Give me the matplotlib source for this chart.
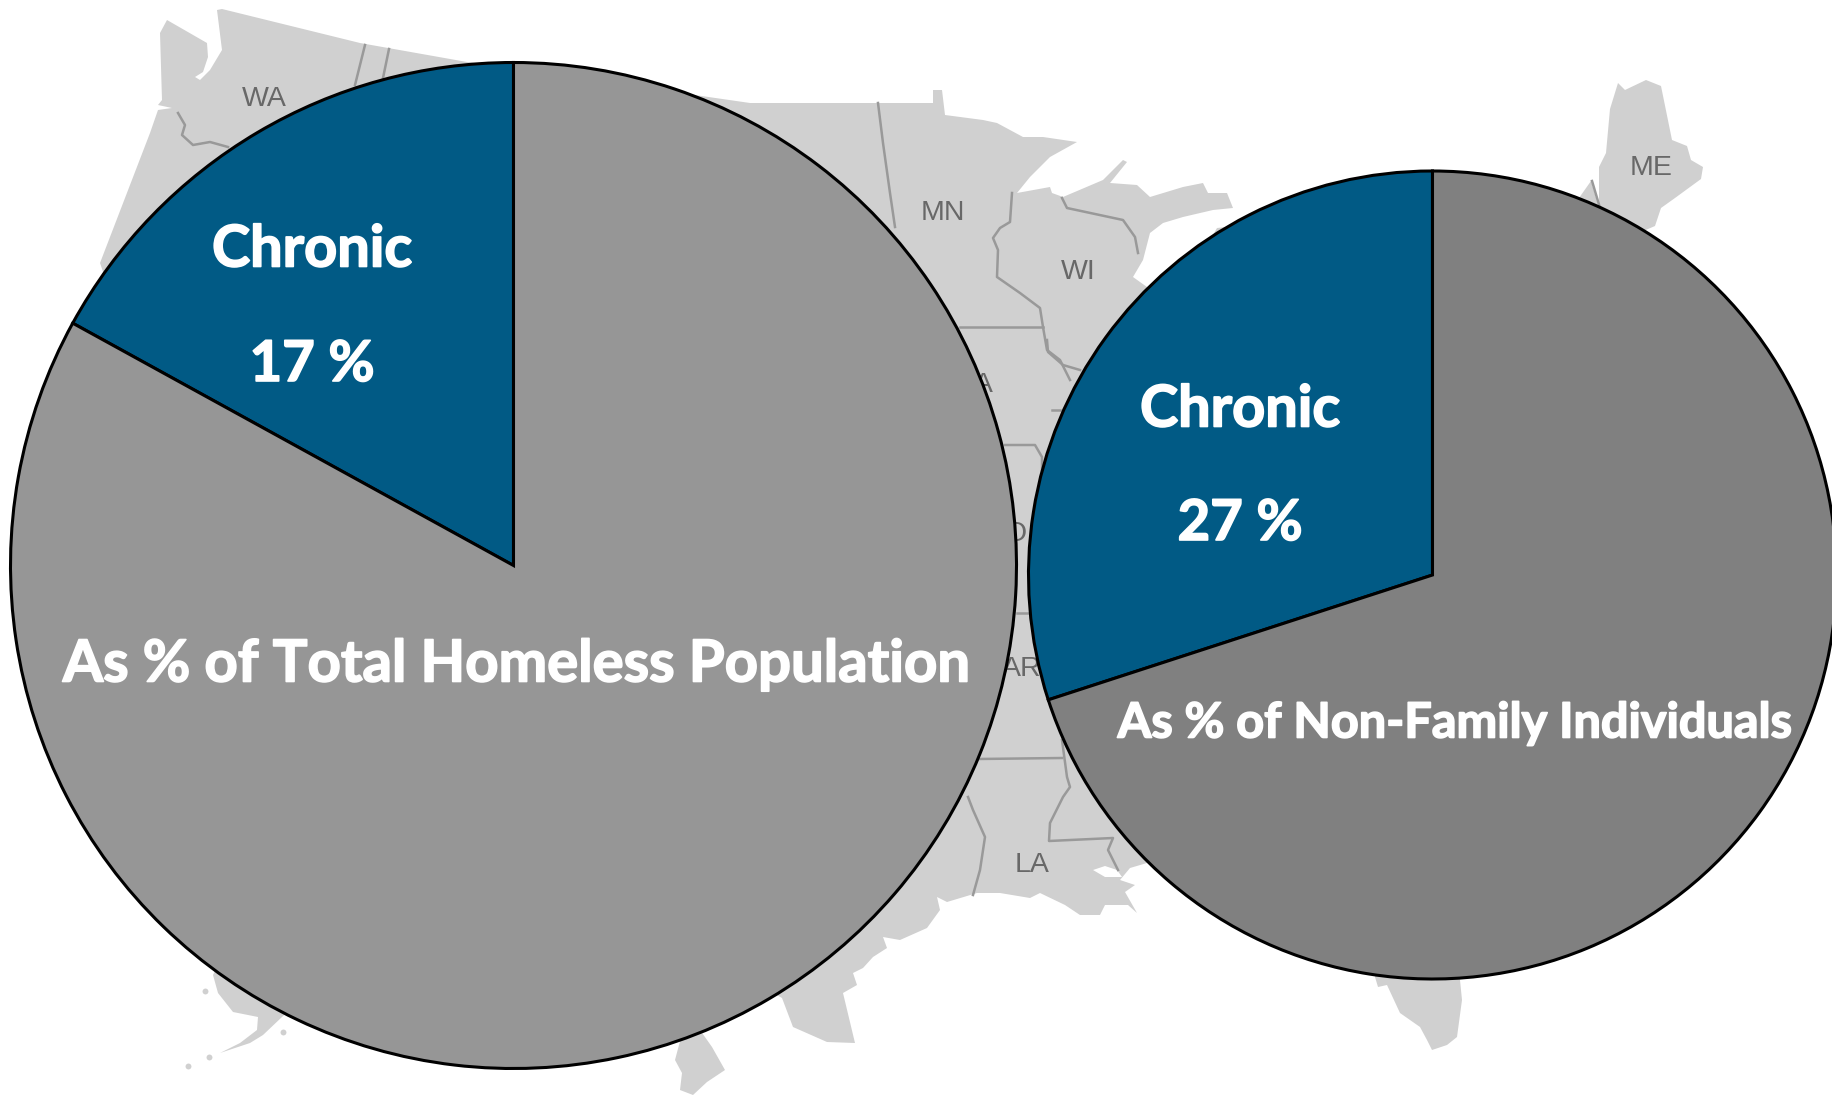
import matplotlib
matplotlib.use('Agg')
import matplotlib.pyplot as plt
import matplotlib.patheffects as pe
from matplotlib.patches import Polygon

# 円グラフの値 (描かれている扇形の割合)
chronic_total = [17, 83]
chronic_single = [30, 70]

# 文字列
chronic_label = 'Chronic'
total_pct = '17 %'
single_pct = '27 %'
total_title = 'As % of Total Homeless Population'
single_title = 'As % of Non-Family Individuals'

# 背景の地図 (画像のピクセル座標で読み取り)
land_main = [
    (160, 33), (167, 20), (207, 43), (208, 57), (203, 72), (195, 77), (200, 80), (210, 70), (222, 50),
    (217, 10), (222, 9), (360, 43), (467, 62), (750, 103), (933, 103), (933, 90), (942, 90), (945, 115),
    (983, 120), (997, 123), (1023, 137), (1043, 137), (1077, 142), (1050, 157), (1030, 177), (1017, 193),
    (1050, 187), (1052, 193), (1063, 197), (1103, 180), (1123, 160), (1127, 162), (1110, 183), (1137, 185),
    (1150, 197), (1183, 187), (1203, 183), (1208, 193), (1227, 193), (1233, 208), (1213, 210), (1183, 217),
    (1163, 223), (1150, 233), (1143, 260), (1133, 277), (1147, 287), (1300, 400), (1579, 198), (1591, 181),
    (1599, 208), (1599, 167), (1606, 153), (1610, 109), (1618, 83), (1625, 90), (1646, 80), (1661, 86),
    (1672, 140), (1687, 146), (1691, 160), (1703, 167), (1701, 179), (1675, 198), (1661, 208), (1655, 226),
    (1641, 232), (1500, 600), (1300, 830), (1147, 863), (1130, 868), (1120, 880), (1135, 885), (1125, 892),
    (1137, 913), (1128, 905), (1105, 905), (1100, 915), (1080, 915), (1065, 905), (1040, 893), (1030, 898),
    (1000, 893), (977, 893), (947, 902), (937, 897), (940, 910), (927, 928), (900, 940), (883, 937),
    (887, 948), (873, 957), (863, 968), (853, 973), (857, 985), (843, 993), (855, 1043), (827, 1042),
    (793, 1027), (782, 998), (700, 950), (300, 1000), (282, 1017), (263, 1035), (250, 1043), (220, 1053),
    (240, 1043), (257, 1030), (258, 1017), (233, 1012), (218, 993), (213, 975), (300, 800), (130, 350),
    (100, 263), (150, 133), (158, 110), (172, 108), (158, 105), (162, 100),
]
land_michigan = [(1210, 240), (1217, 228), (1226, 227), (1232, 232), (1260, 300)]
land_key = [
    (683, 1030), (700, 1030), (712, 1047), (725, 1070), (707, 1082), (693, 1095), (680, 1090), (682, 1073), (675, 1060),
]
land_florida = [
    (1375, 960), (1375, 977), (1378, 987), (1387, 985), (1400, 1013), (1420, 1027), (1427, 1040), (1432, 1050),
    (1447, 1045), (1457, 1037), (1462, 1000), (1458, 960),
]
lake_blob = [(1093, 870), (1105, 866), (1117, 870), (1122, 877), (1105, 877)]
island_x = [205, 209, 188, 283]
island_y = [991, 1057, 1066, 1032]

state_borders = [
    [(178, 113), (185, 125), (182, 135), (193, 145), (210, 142), (228, 147)],
    [(365, 45), (355, 85)],
    [(389, 49), (383, 78)],
    [(878, 103), (883, 143), (890, 193), (895, 227)],
    [(1012, 193), (1010, 222), (1000, 228), (993, 238), (998, 250), (997, 277), (1020, 293), (1040, 308),
     (1043, 327), (1047, 350), (1060, 360), (1070, 380)],
    [(960, 327), (1043, 327)],
    [(1062, 198), (1067, 208), (1123, 220), (1135, 237), (1138, 253)],
    [(1047, 340), (1048, 352), (1063, 365), (1080, 370)],
    [(1005, 445), (1035, 445), (1042, 457), (1042, 470)],
    [(1052, 410), (1060, 410)],
    [(1017, 613), (1030, 613)],
    [(978, 759), (1062, 758)],
    [(1062, 740), (1067, 777), (1070, 787), (1063, 797), (1050, 823), (1049, 841), (1113, 838), (1108, 850), (1118, 870)],
    [(968, 797), (973, 810), (985, 837), (980, 870), (973, 895)],
    [(1592, 181), (1600, 208)],
]

state_names = ['WA', 'MN', 'WI', 'ME', 'LA', 'AR', 'MO', 'IA']
state_x = [264, 943, 1078, 1651, 1032, 1022, 1005, 980]
state_y = [99, 213, 272, 168, 865, 669, 534, 385]

blue = '#015A85'
grey_total = '#969696'
grey_single = '#808080'
land = '#D0D0D0'
border = '#999999'

font = ['Lato', 'DejaVu Sans']
thick = [pe.withStroke(linewidth=1.2, foreground='white')]

fig = plt.figure(figsize=(18.32, 10.98), dpi=100)
ax = fig.add_axes([0, 0, 1, 1])

for outline in [land_main, land_michigan, land_key, land_florida]:
    ax.add_patch(Polygon(outline, closed=True, facecolor=land, edgecolor='none', zorder=0))
ax.add_patch(Polygon(lake_blob, closed=True, facecolor='white', edgecolor='none', zorder=0.1))
ax.scatter(island_x, island_y, s=18, color=land, linewidths=0, zorder=0)

for line in state_borders:
    ax.plot([p[0] for p in line], [p[1] for p in line], color=border, lw=1.8, zorder=0.2)

for name, x, y in zip(state_names, state_x, state_y):
    ax.text(x, y, name, family='Liberation Sans', fontsize=20.5, color='#686868',
            ha='center', va='center', zorder=0.3)

# y軸を反転しているので時計回りで描くと画面では左回りになる
edge = {'edgecolor': 'black', 'linewidth': 2.2}
ax.pie(chronic_total, colors=[blue, grey_total], startangle=-90, counterclock=False,
       center=(513.5, 565.5), radius=503, wedgeprops=edge)
ax.pie(chronic_single, colors=[blue, grey_single], startangle=-90, counterclock=False,
       center=(1432.5, 575), radius=404, wedgeprops=edge)

ax.set_xlim(0, 1832)
ax.set_ylim(1098, 0)
ax.axis('off')

labels = [
    (312, 250, chronic_label, 41.5),
    (312, 365, total_pct, 40.5),
    (1240, 410, chronic_label, 41.5),
    (1240, 524, single_pct, 40.5),
    (516, 665, total_title, 41.8),
    (1455, 723, single_title, 35),
]
for x, y, text, size in labels:
    ax.text(x, y, text, family=font, weight='bold', fontsize=size, color='white',
            ha='center', va='center', path_effects=thick)

fig.savefig('out.png', dpi=100, facecolor='white')
